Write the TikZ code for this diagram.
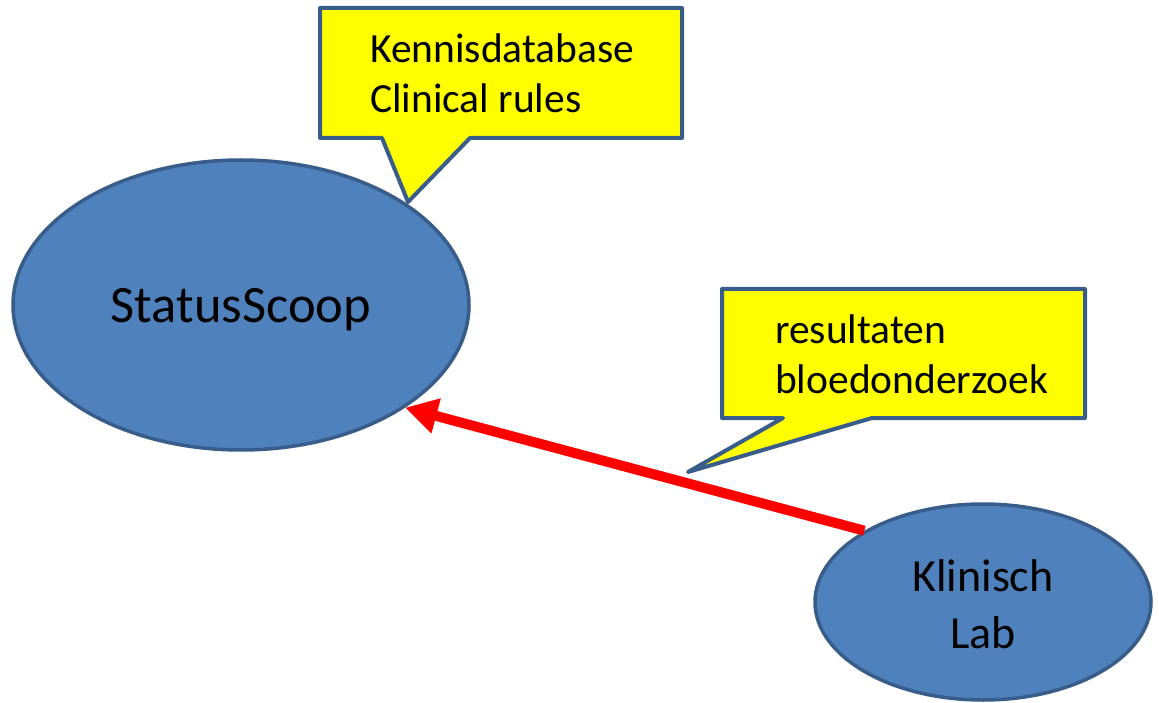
\documentclass[tikz,border=0pt]{standalone}
\usepackage{fontspec}
\setmainfont{Carlito}
\usetikzlibrary{arrows.meta,shapes.geometric}
\definecolor{ellfill}{RGB}{79,129,189}
\definecolor{ellline}{RGB}{56,93,138}
\definecolor{callfill}{RGB}{255,255,0}
\begin{document}
\begin{tikzpicture}[x=1pt,y=-1pt,
  bubble/.style={ellipse, draw=ellline, fill=ellfill, line width=3.5pt, inner sep=0pt},
  calloutshape/.style={draw=ellline, fill=callfill, line width=4pt, line join=round},
  calltext/.style={anchor=base west, align=left, inner sep=0pt, font=\fontsize{41.5}{50}\selectfont},
  bubbletext/.style={anchor=base, align=center, inner sep=0pt},
  link/.style={draw=red, line width=10pt, -{Triangle[length=32pt,width=34pt]}}]
\useasboundingbox (0,0) rectangle (1159,703);
% nodes
\node[bubble, minimum width=456pt, minimum height=290pt] (status) at (241,305) {};
\node[bubbletext, font=\fontsize{52.5}{60}\selectfont] (statuslabel) at (241,323) {StatusScoop};
\node[bubble, minimum width=336pt, minimum height=196pt] (klin) at (983,602) {};
\node[bubbletext, font=\fontsize{46}{57}\selectfont] (klinlabel) at (983,648) {Klinisch\\Lab};
% connector
\draw[link] (klin.149.7) -- (status.-32.4);
% callouts
\draw[calloutshape] (320,8) -- (682,8) -- (682,138) -- (470,138) -- (408,202) -- (382,138) -- (320,138) -- cycle;
\node[calltext] (kennis) at (370,113) {Kennisdatabase\\Clinical rules};
\draw[calloutshape] (722,289) -- (1085,289) -- (1085,418) -- (872,418) -- (688,472) -- (783,418) -- (722,418) -- cycle;
\node[calltext] (result) at (775,393) {resultaten\\bloedonderzoek};
\end{tikzpicture}
\end{document}
